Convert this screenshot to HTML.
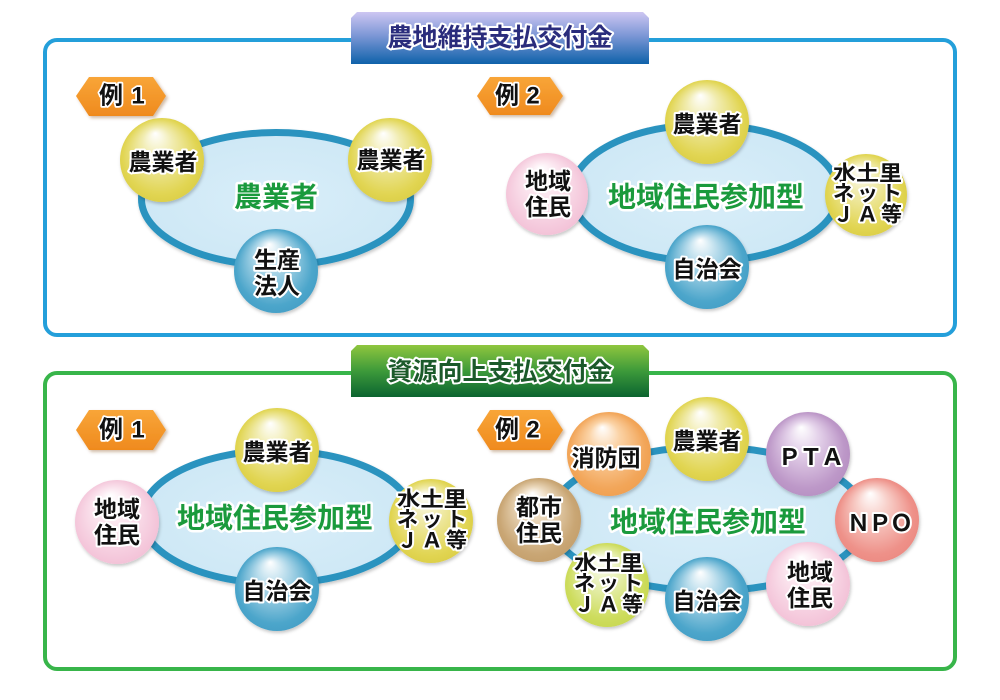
<!DOCTYPE html>
<html lang="ja">
<head>
<meta charset="utf-8">
<style>
  html,body{margin:0;padding:0;background:#fff;}
  svg{display:block;}
  .f{font-family:"Liberation Sans","Noto Sans CJK JP",sans-serif;font-weight:700;}
  .lbl{fill:#111;stroke:#fff;stroke-width:4;paint-order:stroke;stroke-linejoin:round;font-size:23px;}
  .ctr{fill:#1a9a3c;stroke:#fff;stroke-width:5;paint-order:stroke;stroke-linejoin:round;font-size:28px;}
  .tag{fill:#111;stroke:#fff;stroke-width:3.5;paint-order:stroke;stroke-linejoin:round;font-size:24px;}
</style>
</head>
<body>
<svg width="1000" height="700" viewBox="0 0 1000 700" xmlns="http://www.w3.org/2000/svg">
  <defs>
    <linearGradient id="gBlueBan" x1="0" y1="0" x2="0" y2="1">
      <stop offset="0" stop-color="#cdc6f2"/>
      <stop offset="0.45" stop-color="#7d97d6"/>
      <stop offset="1" stop-color="#0f62aa"/>
    </linearGradient>
    <linearGradient id="gGreenBan" x1="0" y1="0" x2="0" y2="1">
      <stop offset="0" stop-color="#8fc63e"/>
      <stop offset="0.5" stop-color="#3d9a3a"/>
      <stop offset="1" stop-color="#0b6430"/>
    </linearGradient>
    <linearGradient id="gTag" x1="0" y1="0" x2="0" y2="1">
      <stop offset="0" stop-color="#f8a538"/>
      <stop offset="1" stop-color="#ef8a1e"/>
    </linearGradient>
    <radialGradient id="gEll" cx="0.5" cy="0.5" r="0.6">
      <stop offset="0" stop-color="#d9eef9"/>
      <stop offset="1" stop-color="#cce7f5"/>
    </radialGradient>

    <radialGradient id="cY" cx="0.5" cy="0.55" r="0.6" fx="0.42" fy="0.18">
      <stop offset="0" stop-color="#ffffff"/>
      <stop offset="0.3" stop-color="#f1ecb0"/>
      <stop offset="0.75" stop-color="#e1d552"/>
      <stop offset="1" stop-color="#d6c83e"/>
    </radialGradient>
    <radialGradient id="cB" cx="0.5" cy="0.55" r="0.6" fx="0.42" fy="0.18">
      <stop offset="0" stop-color="#ffffff"/>
      <stop offset="0.3" stop-color="#b6dbeb"/>
      <stop offset="0.75" stop-color="#4da6cb"/>
      <stop offset="1" stop-color="#3a98c2"/>
    </radialGradient>
    <radialGradient id="cP" cx="0.5" cy="0.55" r="0.6" fx="0.42" fy="0.18">
      <stop offset="0" stop-color="#ffffff"/>
      <stop offset="0.35" stop-color="#fbe6ef"/>
      <stop offset="0.8" stop-color="#f4c6da"/>
      <stop offset="1" stop-color="#efb6cf"/>
    </radialGradient>
    <radialGradient id="cO" cx="0.5" cy="0.55" r="0.6" fx="0.42" fy="0.18">
      <stop offset="0" stop-color="#ffffff"/>
      <stop offset="0.3" stop-color="#fbd3a6"/>
      <stop offset="0.75" stop-color="#f2a65a"/>
      <stop offset="1" stop-color="#ee9a46"/>
    </radialGradient>
    <radialGradient id="cV" cx="0.5" cy="0.55" r="0.6" fx="0.42" fy="0.18">
      <stop offset="0" stop-color="#ffffff"/>
      <stop offset="0.3" stop-color="#e4d2ea"/>
      <stop offset="0.75" stop-color="#bd98c8"/>
      <stop offset="1" stop-color="#b189be"/>
    </radialGradient>
    <radialGradient id="cS" cx="0.5" cy="0.55" r="0.6" fx="0.42" fy="0.18">
      <stop offset="0" stop-color="#ffffff"/>
      <stop offset="0.3" stop-color="#f8d0ca"/>
      <stop offset="0.75" stop-color="#ee9189"/>
      <stop offset="1" stop-color="#ea847c"/>
    </radialGradient>
    <radialGradient id="cT" cx="0.5" cy="0.55" r="0.6" fx="0.42" fy="0.18">
      <stop offset="0" stop-color="#ffffff"/>
      <stop offset="0.3" stop-color="#ecdabf"/>
      <stop offset="0.75" stop-color="#c9a674"/>
      <stop offset="1" stop-color="#c09a66"/>
    </radialGradient>
    <radialGradient id="cG" cx="0.5" cy="0.55" r="0.6" fx="0.42" fy="0.18">
      <stop offset="0" stop-color="#ffffff"/>
      <stop offset="0.3" stop-color="#eaf2bc"/>
      <stop offset="0.75" stop-color="#cddc5c"/>
      <stop offset="1" stop-color="#c3d44a"/>
    </radialGradient>

    <filter id="sh" x="-20%" y="-20%" width="140%" height="140%">
      <feDropShadow dx="1" dy="2" stdDeviation="1.6" flood-color="#000" flood-opacity="0.22"/>
    </filter>
    <filter id="shT" x="-20%" y="-20%" width="140%" height="150%">
      <feDropShadow dx="2" dy="2" stdDeviation="1.5" flood-color="#7a3a10" flood-opacity="0.35"/>
    </filter>
  </defs>

  <!-- Frames -->
  <rect x="45" y="40" width="910" height="295" rx="12" ry="12" fill="#fff" stroke="#249fda" stroke-width="4"/>
  <rect x="45" y="373" width="910" height="296" rx="12" ry="12" fill="#fff" stroke="#38b54a" stroke-width="4"/>

  <!-- Banners -->
  <polygon points="357,12 643,12 649,18 649,64 351,64 351,18" fill="url(#gBlueBan)"/>
  <text class="f" x="500" y="38" text-anchor="middle" dominant-baseline="central" font-size="25" fill="#2a2c7c" stroke="#fff" stroke-width="4" paint-order="stroke" stroke-linejoin="round">農地維持支払交付金</text>

  <polygon points="357,345 643,345 649,351 649,397 351,397 351,351" fill="url(#gGreenBan)"/>
  <text class="f" x="500" y="372" text-anchor="middle" dominant-baseline="central" font-size="25" fill="#1b5a2a" stroke="#fff" stroke-width="4" paint-order="stroke" stroke-linejoin="round">資源向上支払交付金</text>

  <!-- Tags -->
  <g filter="url(#shT)">
    <polygon points="76,96 89,77 153,77 166,96 153,116 89,116" fill="url(#gTag)"/>
    <polygon points="477,96 490,77 550,77 563,96 550,115 490,115" fill="url(#gTag)"/>
    <polygon points="76,430 89,410 153,410 166,430 153,450 89,450" fill="url(#gTag)"/>
    <polygon points="477,430 490,410 550,410 563,430 550,450 490,450" fill="url(#gTag)"/>
  </g>
  <g class="f tag" dominant-baseline="central" text-anchor="middle">
    <text x="111" y="96">例</text><text x="138" y="96">1</text>
    <text x="507" y="96">例</text><text x="533" y="96">2</text>
    <text x="111" y="430">例</text><text x="138" y="430">1</text>
    <text x="507" y="430">例</text><text x="533" y="430">2</text>
  </g>

  <!-- ===== Top example 1 ===== -->
  <ellipse cx="276" cy="199" rx="134.5" ry="66.5" fill="url(#gEll)" stroke="#2a93bf" stroke-width="7" filter="url(#sh)"/>
  <text class="f ctr" x="276" y="197" text-anchor="middle" dominant-baseline="central">農業者</text>
  <g filter="url(#sh)">
    <circle cx="162" cy="160" r="42" fill="url(#cY)"/>
    <circle cx="390" cy="160" r="42" fill="url(#cY)"/>
    <circle cx="276" cy="271" r="42" fill="url(#cB)"/>
  </g>
  <g class="f lbl" text-anchor="middle" dominant-baseline="central">
    <text x="163" y="162">農業者</text>
    <text x="391" y="160">農業者</text>
    <text x="277" y="260">生産</text>
    <text x="277" y="286">法人</text>
  </g>

  <!-- ===== Top example 2 ===== -->
  <ellipse cx="705" cy="193" rx="133.5" ry="68.5" fill="url(#gEll)" stroke="#2a93bf" stroke-width="7" filter="url(#sh)"/>
  <text class="f ctr" x="706" y="197" text-anchor="middle" dominant-baseline="central">地域住民参加型</text>
  <g filter="url(#sh)">
    <circle cx="707" cy="122" r="42" fill="url(#cY)"/>
    <circle cx="547" cy="194" r="41" fill="url(#cP)"/>
    <circle cx="866" cy="195" r="41" fill="url(#cY)"/>
    <circle cx="707" cy="267" r="42" fill="url(#cB)"/>
  </g>
  <g class="f lbl" text-anchor="middle" dominant-baseline="central">
    <text x="707" y="124">農業者</text>
    <text x="548" y="181">地域</text>
    <text x="548" y="207">住民</text>
    <text x="707" y="269">自治会</text>
  </g>
  <g class="f lbl" style="font-size:21px" dominant-baseline="central">
    <text x="833" y="174" textLength="69" lengthAdjust="spacingAndGlyphs">水土里</text>
    <text x="833" y="194" textLength="69" lengthAdjust="spacing">ネット</text>
    <text x="833" y="215" textLength="69" lengthAdjust="spacing">ＪＡ等</text>
  </g>

  <!-- ===== Bottom example 1 ===== -->
  <ellipse cx="277" cy="517" rx="135.5" ry="66.5" fill="url(#gEll)" stroke="#2a93bf" stroke-width="7" filter="url(#sh)"/>
  <text class="f ctr" x="275" y="518" text-anchor="middle" dominant-baseline="central">地域住民参加型</text>
  <g filter="url(#sh)">
    <circle cx="277" cy="450" r="42" fill="url(#cY)"/>
    <circle cx="117" cy="522" r="42" fill="url(#cP)"/>
    <circle cx="431" cy="521" r="42" fill="url(#cY)"/>
    <circle cx="277" cy="589" r="42" fill="url(#cB)"/>
  </g>
  <g class="f lbl" text-anchor="middle" dominant-baseline="central">
    <text x="277" y="452">農業者</text>
    <text x="117" y="509">地域</text>
    <text x="117" y="535">住民</text>
    <text x="277" y="591">自治会</text>
  </g>
  <g class="f lbl" style="font-size:21px" dominant-baseline="central">
    <text x="397" y="500" textLength="70" lengthAdjust="spacingAndGlyphs">水土里</text>
    <text x="397" y="520" textLength="70" lengthAdjust="spacing">ネット</text>
    <text x="397" y="541" textLength="70" lengthAdjust="spacing">ＪＡ等</text>
  </g>

  <!-- ===== Bottom example 2 ===== -->
  <ellipse cx="708" cy="519" rx="158" ry="72" fill="url(#gEll)" stroke="#2a93bf" stroke-width="7" filter="url(#sh)"/>
  <text class="f ctr" x="708" y="522" text-anchor="middle" dominant-baseline="central">地域住民参加型</text>
  <g filter="url(#sh)">
    <circle cx="609" cy="454" r="42" fill="url(#cO)"/>
    <circle cx="707" cy="439" r="42" fill="url(#cY)"/>
    <circle cx="808" cy="454" r="42" fill="url(#cV)"/>
    <circle cx="877" cy="520" r="42" fill="url(#cS)"/>
    <circle cx="808" cy="584" r="42" fill="url(#cP)"/>
    <circle cx="707" cy="599" r="42" fill="url(#cB)"/>
    <circle cx="607" cy="585" r="42" fill="url(#cG)"/>
    <circle cx="539" cy="520" r="42" fill="url(#cT)"/>
  </g>
  <g class="f lbl" text-anchor="middle" dominant-baseline="central">
    <text x="606" y="458">消防団</text>
    <text x="707" y="441">農業者</text>
    <text x="539" y="507">都市</text>
    <text x="539" y="533">住民</text>
    <text x="707" y="601">自治会</text>
    <text x="810" y="572">地域</text>
    <text x="810" y="598">住民</text>
  </g>
  <g class="f lbl" dominant-baseline="central">
    <text x="778" y="457" textLength="66" lengthAdjust="spacing">ＰＴＡ</text>
    <text x="847" y="523" textLength="66" lengthAdjust="spacing">ＮＰＯ</text>
  </g>
  <g class="f lbl" style="font-size:21px" dominant-baseline="central">
    <text x="574" y="564" textLength="69" lengthAdjust="spacingAndGlyphs">水土里</text>
    <text x="574" y="584" textLength="69" lengthAdjust="spacing">ネット</text>
    <text x="574" y="605" textLength="69" lengthAdjust="spacing">ＪＡ等</text>
  </g>
</svg>
</body>
</html>
